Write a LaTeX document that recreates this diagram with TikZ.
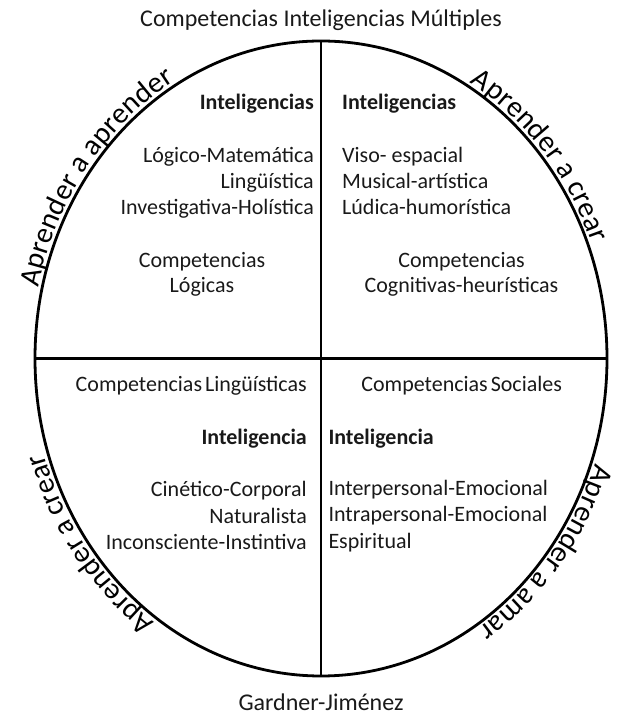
\documentclass[tikz,border=0pt]{standalone}
\usepackage{fontspec}
\setmainfont{Carlito}
\usetikzlibrary{decorations.text,shapes.geometric}
\newcommand{\bodyfnt}{\fontsize{22}{26}\selectfont}
\newcommand{\curvfnt}{\fontsize{29.5}{29.5}\selectfont}
\begin{document}
\begin{tikzpicture}[x=1pt,y=1pt,
  txt/.style={inner sep=0pt, font=\bodyfnt, text=black!90},
  btxt/.style={txt, font=\bodyfnt\bfseries},
  ttl/.style={inner sep=0pt, font=\fontsize{24}{28}\selectfont, text=black!90},
  curv/.style={decorate, decoration={text along path, text align=center, raise=4pt, text={|\curvfnt|#1}}}
]
\useasboundingbox (0,0) rectangle (621,715);
\node[ellipse, draw, line width=2.8pt, minimum width=572pt, minimum height=635pt, inner sep=0pt, outer sep=0pt] (E) at (321,356.5) {};
\draw[line width=2.8pt] (E.north) -- (E.south);
\draw[line width=2.8pt] (E.west) -- (E.east);

\path[curv={Aprender a aprender}] (E.center) ++(183:286pt and 317.5pt) arc[start angle=183, end angle=103, x radius=286pt, y radius=317.5pt];
\path[curv={Aprender a crear}] (E.center) ++(81:286pt and 317.5pt) arc[start angle=81, end angle=1, x radius=286pt, y radius=317.5pt];
\path[curv={Aprender a crear}] (E.center) ++(257:286pt and 317.5pt) arc[start angle=257, end angle=177, x radius=286pt, y radius=317.5pt];
\path[curv={Aprender a amar}] (E.center) ++(361:286pt and 317.5pt) arc[start angle=361, end angle=281, x radius=286pt, y radius=317.5pt];

\node[ttl, anchor=base] (title) at (321,688.3) {Competencias Inteligencias Múltiples};
\node[ttl, anchor=base] (src) at (321,4.5) {Gardner-Jiménez};

% top-left
\node[btxt, anchor=base east] (tl1) at (314,605) {Inteligencias};
\node[txt, anchor=base east] (tl2) at (314,552.5) {Lógico-Matemática};
\node[txt, anchor=base east] (tl3) at (314,526) {Lingüística};
\node[txt, anchor=base east] (tl4) at (314,500) {Investigativa-Holística};
\node[txt, anchor=base] (tl5) at (202,447) {Competencias};
\node[txt, anchor=base] (tl6) at (202,422) {Lógicas};

% top-right
\node[btxt, anchor=base west] (tr1) at (342,605) {Inteligencias};
\node[txt, anchor=base west] (tr2) at (342,552.5) {Viso- espacial};
\node[txt, anchor=base west] (tr3) at (342,526.5) {Musical-artística};
\node[txt, anchor=base west] (tr4) at (342,500.5) {Lúdica-humorística};
\node[txt, anchor=base] (tr5) at (461.5,447) {Competencias};
\node[txt, anchor=base] (tr6) at (461.5,422) {Cognitivas-heurísticas};

% bottom-left
\node[txt, anchor=base east] (bl1) at (307,323.3) {Competencias\hspace{-2pt} Lingüísticas};
\node[btxt, anchor=base east] (bl2) at (307,270.7) {Inteligencia};
\node[txt, anchor=base east] (bl3) at (307,218.3) {Cinético-Corporal};
\node[txt, anchor=base east] (bl4) at (307,191.7) {Naturalista};
\node[txt, anchor=base east] (bl5) at (307,165.7) {Inconsciente-Instintiva};

% bottom-right
\node[txt, anchor=base] (br1) at (461.7,323.3) {Competencias\hspace{-2pt} Sociales};
\node[btxt, anchor=base west] (br2) at (328.3,270.7) {Inteligencia};
\node[txt, anchor=base west] (br3) at (328.3,219.3) {Interpersonal-Emocional};
\node[txt, anchor=base west] (br4) at (328.3,193.3) {Intrapersonal-Emocional};
\node[txt, anchor=base west] (br5) at (328.3,166.7) {Espiritual};
\end{tikzpicture}
\end{document}
